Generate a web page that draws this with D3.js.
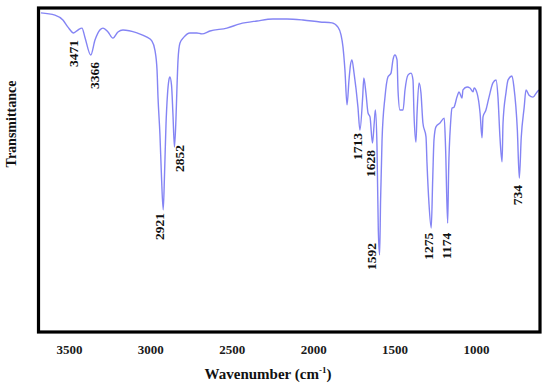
<!DOCTYPE html>
<html>
<head>
<meta charset="utf-8">
<script src="https://cdn.jsdelivr.net/npm/d3@7/dist/d3.min.js"></script>
<style>
  html, body { margin: 0; padding: 0; background: #fff; }
  svg { display: block; }
</style>
</head>
<body>
<svg id="chart" width="550" height="385"></svg>
<script>
// ---- Data ----
const wavenumbers = [
  3672, 3586, 3537, 3506, 3471, 3445, 3420, 3402, 3366, 3340,
  3310, 3291, 3260, 3230, 3199, 3168, 3082, 3021, 2990, 2972,
  2959, 2953, 2941, 2932, 2921, 2913, 2904, 2895, 2886, 2880,
  2870, 2861, 2852, 2843, 2837, 2830, 2818, 2794, 2757, 2714,
  2683, 2634, 2530, 2450, 2345, 2247, 2161, 2063, 1958, 1884,
  1848, 1829, 1817, 1805, 1792, 1780, 1771, 1762, 1749, 1725,
  1713, 1696, 1689, 1676, 1663, 1651, 1636, 1625, 1618, 1608,
  1600, 1592, 1586, 1577, 1559, 1541, 1522, 1510, 1498, 1485,
  1479, 1467, 1448, 1436, 1418, 1399, 1387, 1381, 1369, 1362,
  1350, 1338, 1326, 1307, 1301, 1289, 1275, 1266, 1258, 1246,
  1221, 1195, 1187, 1174, 1168, 1156, 1147, 1135, 1117, 1104,
  1086, 1080, 1055, 1037, 1018, 1012, 994, 975, 963, 957,
  939, 920, 896, 877, 865, 853, 840, 834, 816, 803,
  779, 767, 746, 734, 722, 704, 693, 674, 650, 625,
  613
];
const transmittance = [
  98.5, 97.8, 96.3, 94.1, 92.3, 93.2, 93.8, 91.0, 85.5, 90.1,
  93.2, 93.8, 92.6, 90.7, 92.6, 93.2, 92.3, 91.0, 89.8, 87.0,
  80.9, 72.5, 60.8, 48.5, 37.7, 48.5, 63.9, 73.1, 77.8, 78.7,
  76.2, 67.0, 57.1, 65.4, 74.7, 84.0, 89.2, 91.0, 92.3, 92.3,
  92.0, 92.9, 93.8, 95.1, 96.0, 96.6, 96.6, 96.3, 95.7, 95.4,
  94.1, 91.7, 88.0, 80.9, 70.1, 77.8, 82.4, 84.0, 79.9, 69.4,
  62.3, 72.5, 78.4, 73.8, 67.6, 66.4, 58.3, 64.5, 68.5, 57.1,
  31.5, 23.8, 40.7, 59.3, 72.5, 78.7, 79.9, 84.0, 85.5, 84.0,
  74.7, 68.5, 68.5, 74.7, 79.3, 79.9, 77.8, 67.6, 58.6, 67.6,
  76.9, 73.8, 64.5, 60.2, 52.2, 39.8, 32.1, 46.9, 59.3, 63.3,
  64.5, 66.0, 57.1, 33.6, 50.0, 64.5, 69.1, 69.4, 72.5, 74.1,
  72.2, 74.7, 75.6, 75.3, 74.1, 75.3, 73.8, 67.6, 59.9, 66.4,
  68.5, 72.5, 76.9, 77.8, 72.5, 60.2, 52.5, 64.5, 73.8, 77.8,
  79.0, 75.6, 62.3, 47.5, 60.2, 69.4, 74.7, 73.1, 72.5, 74.1,
  74.7
];
const tickValues = [3500, 3000, 2500, 2000, 1500, 1000];
const peakLabels = ["3471", "3366", "2921", "2852", "1713", "1628", "1592", "1275", "1174", "734"];
// label anchor (top of rotated text) in data units
const peakLabelWn = [3475, 3346, 2941, 2818, 1725, 1645, 1639, 1289, 1184, 748];
const peakLabelT  = [90.1, 83.3, 36.7, 57.7, 61.4, 56.2, 27.5, 30.6, 30.6, 45.4];
const xTitle = "Wavenumber (cm";
const xTitleSup = "-1";
const yTitle = "Transmittance";

// ---- Drawing ----
const svg = d3.select("#chart");
const plotLeft = 38, plotRight = 539.5, plotTop = 8, plotBottom = 332;

const x = d3.scaleLinear().domain([3690, 610]).range([plotLeft, plotRight]);
const y = d3.scaleLinear().domain([0, 100]).range([plotBottom, plotTop]);

const serif = "'Liberation Serif', 'Times New Roman', serif";

const data = wavenumbers.map((w, i) => ({ w, t: transmittance[i] }));

const line = d3.line()
  .x(d => x(d.w))
  .y(d => y(d.t))
  .curve(d3.curveMonotoneX);

svg.append("path")
  .datum(data)
  .attr("fill", "none")
  .attr("stroke", "#6e6ef2")
  .attr("stroke-opacity", 0.85)
  .attr("stroke-width", 1.4)
  .attr("stroke-linejoin", "round")
  .attr("d", line);

// frame
svg.append("rect")
  .attr("x", plotLeft + 0.5)
  .attr("y", plotTop)
  .attr("width", plotRight - plotLeft)
  .attr("height", plotBottom - plotTop)
  .attr("fill", "none")
  .attr("stroke", "#000")
  .attr("stroke-width", 3.2);

// x axis
const xAxis = d3.axisBottom(x).tickValues(tickValues).tickFormat(d3.format("d")).tickSize(0).tickPadding(13);
const gx = svg.append("g")
  .attr("transform", `translate(0,${plotBottom})`)
  .call(xAxis);
gx.select(".domain").remove();
gx.selectAll("text")
  .attr("font-family", serif)
  .attr("font-weight", "bold")
  .attr("font-size", 13)
  .attr("fill", "#1a1a1a");

// x title
const xt = svg.append("text")
  .attr("x", 268)
  .attr("y", 379)
  .attr("text-anchor", "middle")
  .attr("font-family", serif)
  .attr("font-weight", "bold")
  .attr("font-size", 15)
  .attr("fill", "#111");
xt.append("tspan").text(xTitle);
xt.append("tspan").attr("font-size", 9).attr("dy", -6).text(xTitleSup);
xt.append("tspan").attr("dy", 6).text(")");

// y title
svg.append("text")
  .attr("transform", `translate(16,124) rotate(-90)`)
  .attr("text-anchor", "middle")
  .attr("font-family", serif)
  .attr("font-weight", "bold")
  .attr("font-size", 14)
  .attr("fill", "#111")
  .text(yTitle);

// peak labels
svg.append("g").selectAll("text")
  .data(peakLabels)
  .join("text")
  .attr("transform", (d, i) => `translate(${x(peakLabelWn[i]) + 4.5},${y(peakLabelT[i])}) rotate(-90)`)
  .attr("text-anchor", "end")
  .attr("font-family", serif)
  .attr("font-weight", "bold")
  .attr("font-size", 13.5)
  .attr("fill", "#111")
  .text(d => d);
</script>
</body>
</html>
